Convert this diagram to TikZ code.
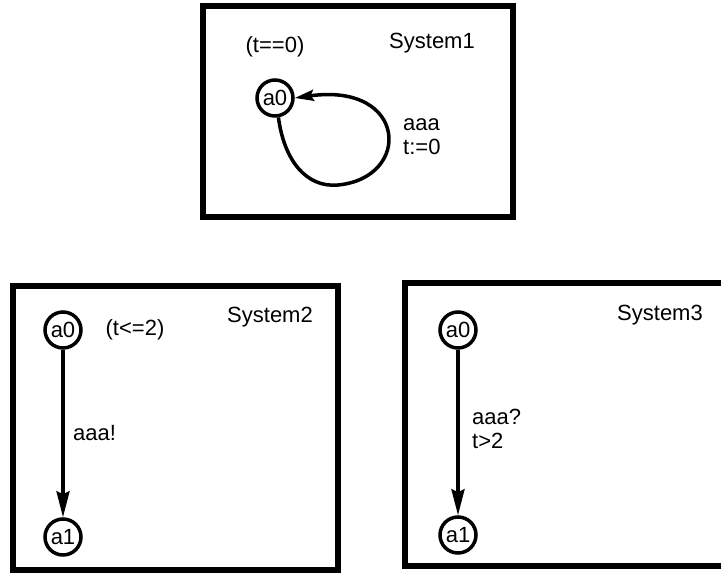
\documentclass[tikz,border=0pt]{standalone}
\usepackage{fontspec}
\setmainfont{Liberation Sans}
\usetikzlibrary{shapes, arrows.meta}

\begin{document}
\begin{tikzpicture}[x=1pt,y=-1pt,>={Stealth[length=26pt,width=13pt,inset=3pt]},
      font=\fontsize{22}{24}\selectfont,
      main node/.style={circle,draw,line width=3.5pt,minimum size=36pt,inner sep=0pt},
      other node/.style={align=left,inner sep=0pt},
      sys box/.style={draw,line width=6pt},
      trans/.style={->,line width=3.5pt}]
    \useasboundingbox (0,0) rectangle (721,575);
    \clip (0,0) rectangle (721,575);

    % System1
    \draw[sys box] (202.5,6) rectangle (513,217.5);
    \node[other node] (s1) at (432,43) {System1};
    \node[main node] (1) at (275,98) {a0};
    \node[other node] (inv1) at (275,47) {(t==0)};
    \node[other node,anchor=west] (lab1) at (403,137) {aaa\\t:=0};
    \draw[line width=3.5pt,->,>={Stealth[length=19pt,width=11pt,inset=3pt]}]
        (1.-80) .. controls (284,160) and (306,188) .. (338,185)
        .. controls (412,178) and (408,82) .. (1.east);

    % System2
    \draw[sys box] (12.5,285.5) rectangle (337.5,569.5);
    \node[other node] (s2) at (270,317) {System2};
    \node[main node] (2) at (63,330) {a0};
    \node[main node] (3) at (63,537) {a1};
    \node[other node] (inv2) at (135,330) {(t<=2)};
    \node[other node,anchor=west] (lab2) at (73,433) {aaa!};
    \draw[trans] (2) -- (3);

    % System3
    \draw[sys box] (404.5,282.5) rectangle (730,565.5);
    \node[other node] (s3) at (660,315) {System3};
    \node[main node] (4) at (458,330) {a0};
    \node[main node] (5) at (458,535) {a1};
    \node[other node,anchor=west] (lab3) at (472,429) {aaa?\\t>2};
    \draw[trans] (4) -- (5);
\end{tikzpicture}
\end{document}
